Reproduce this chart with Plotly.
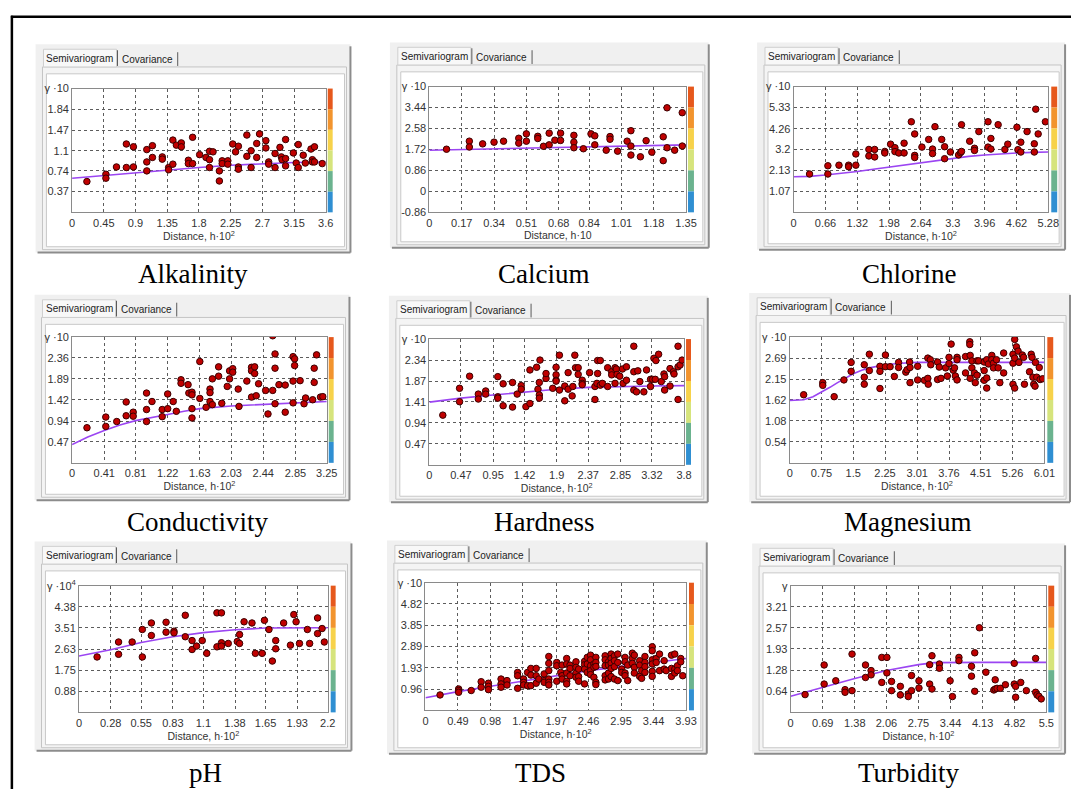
import plotly.graph_objects as go

W, H = 1082, 795


def X(px):
    return px / W


def Y(py):
    return 1 - py / H


# ---------------- DATA ----------------
titles = ["Alkalinity", "Calcium", "Chlorine", "Conductivity", "Hardness",
          "Magnesium", "pH", "TDS", "Turbidity"]

alk_pts = [(0.21, 0.55), (0.48, 0.68), (0.48, 0.61), (0.63, 0.81), (0.77, 1.22), (0.77, 0.80),
           (0.87, 1.17), (0.87, 0.81), (1.06, 1.12), (1.06, 0.90), (1.06, 0.74), (1.14, 1.19),
           (1.14, 0.98), (1.28, 0.99), (1.28, 0.95), (1.37, 0.80), (1.37, 0.76), (1.43, 1.29),
           (1.43, 0.86), (1.48, 1.20), (1.55, 1.24), (1.55, 1.17), (1.71, 1.34), (1.65, 0.93),
           (1.65, 0.87), (1.71, 0.87), (1.81, 1.03), (1.90, 0.98), (1.95, 0.94), (1.95, 1.09),
           (2.00, 1.08), (1.95, 0.80), (2.09, 0.74), (2.09, 0.56), (2.13, 0.92), (2.13, 0.87),
           (2.21, 0.92), (2.21, 0.86), (2.28, 1.22), (2.32, 1.08), (2.36, 1.18), (2.36, 0.81),
           (2.36, 0.77), (2.48, 1.38), (2.48, 1.00), (2.54, 1.10), (2.54, 0.80), (2.62, 1.23),
           (2.62, 0.98), (2.66, 1.40), (2.75, 1.28), (2.75, 1.15), (2.79, 0.90), (2.79, 0.86),
           (2.88, 1.05), (2.88, 0.80), (2.95, 1.16), (2.97, 0.99), (2.98, 0.94), (3.03, 1.30),
           (3.03, 0.96), (3.03, 0.83), (3.14, 1.06), (3.18, 0.88), (3.21, 1.21), (3.21, 0.80),
           (3.28, 1.02), (3.31, 0.88), (3.39, 1.13), (3.44, 1.17), (3.41, 0.94), (3.41, 0.90),
           (3.44, 0.90), (3.55, 0.87)]
alk_model = [(0, 0.61), (0.45, 0.66), (0.9, 0.71), (1.35, 0.76), (1.8, 0.80), (2.25, 0.84),
             (2.7, 0.87), (3.15, 0.89), (3.6, 0.90)]
alk_xticks = ["0", "0.45", "0.9", "1.35", "1.8", "2.25", "2.7", "3.15", "3.6"]
alk_yticks = ["0.37", "0.74", "1.1", "1.47", "1.84", "2.21"]

cal_pts = [(0.09, 1.73), (0.21, 2.06), (0.21, 1.82), (0.28, 1.95), (0.34, 2.02), (0.39, 2.06),
           (0.47, 2.18), (0.47, 1.98), (0.51, 2.36), (0.51, 2.06), (0.57, 2.26), (0.57, 2.17),
           (0.60, 1.85), (0.63, 2.39), (0.63, 1.91), (0.66, 2.10), (0.69, 2.39), (0.69, 2.09),
           (0.76, 2.30), (0.76, 2.02), (0.76, 1.79), (0.81, 1.75), (0.85, 2.36), (0.87, 2.28),
           (0.87, 1.91), (0.93, 1.69), (0.95, 2.25), (0.95, 2.14), (0.99, 1.65), (1.04, 2.06),
           (1.06, 2.49), (1.06, 1.86), (1.06, 1.49), (1.11, 1.42), (1.14, 2.08), (1.17, 1.61),
           (1.23, 2.24), (1.23, 1.26), (1.25, 3.43), (1.25, 1.79), (1.29, 1.69), (1.33, 3.23),
           (1.33, 1.86)]
cal_model = [(0, 1.69), (0.34, 1.75), (0.68, 1.81), (1.01, 1.86), (1.35, 1.91)]
cal_xticks = ["0", "0.17", "0.34", "0.51", "0.68", "0.84", "1.01", "1.18", "1.35"]
cal_yticks = ["-0.86", "0", "0.86", "1.72", "2.58", "3.44", "4.30"]

chl_pts = [(0.33, 1.95), (0.71, 2.37), (0.71, 1.95), (0.94, 2.40), (1.14, 2.40), (1.14, 2.32),
           (1.29, 2.97), (1.29, 2.40), (1.56, 3.20), (1.56, 2.87), (1.68, 3.20), (1.68, 2.82),
           (1.89, 3.10), (1.89, 3.02), (2.01, 3.47), (2.10, 3.29), (2.10, 3.09), (2.18, 3.02),
           (2.29, 3.52), (2.29, 3.02), (2.44, 4.61), (2.51, 3.99), (2.51, 2.90), (2.51, 2.79),
           (2.66, 3.32), (2.80, 3.71), (2.88, 3.22), (2.88, 2.99), (2.93, 4.36), (3.07, 3.71),
           (3.13, 3.34), (3.13, 2.73), (3.25, 3.07), (3.42, 2.92), (3.46, 3.04), (3.48, 3.10),
           (3.48, 4.46), (3.65, 3.62), (3.75, 3.26), (3.75, 3.15), (3.84, 4.11), (4.03, 4.61),
           (4.03, 3.32), (4.09, 3.76), (4.09, 3.22), (4.24, 4.46), (4.38, 3.20), (4.44, 3.47),
           (4.63, 4.33), (4.65, 3.19), (4.71, 3.57), (4.71, 3.07), (4.84, 4.11), (4.99, 3.49),
           (4.99, 3.07), (5.02, 5.25), (5.07, 3.99), (5.22, 4.61)]
chl_model = [(0, 1.81), (0.33, 1.83), (0.66, 1.90), (0.99, 1.98), (1.32, 2.08), (1.65, 2.19),
             (1.98, 2.30), (2.31, 2.42), (2.64, 2.54), (2.97, 2.65), (3.3, 2.76), (3.63, 2.85),
             (3.96, 2.92), (4.29, 2.98), (4.62, 3.02), (4.95, 3.05), (5.28, 3.07)]
chl_xticks = ["0", "0.66", "1.32", "1.98", "2.64", "3.3", "3.96", "4.62", "5.28"]
chl_yticks = ["1.07", "2.13", "3.2", "4.26", "5.33", "6.40"]

con_pts = [(0.19, 0.79), (0.43, 1.03), (0.43, 0.82), (0.57, 0.93), (0.69, 1.37), (0.69, 1.06),
           (0.78, 1.14), (0.78, 1.05), (0.95, 1.57), (0.95, 1.20), (0.95, 0.93), (1.02, 1.38),
           (1.15, 1.20), (1.15, 1.04), (1.22, 1.55), (1.22, 1.22), (1.29, 1.38), (1.33, 1.16),
           (1.39, 1.87), (1.39, 1.79), (1.48, 1.76), (1.49, 1.57), (1.53, 1.59), (1.53, 1.53),
           (1.53, 1.22), (1.53, 1.01), (1.63, 2.28), (1.63, 1.45), (1.71, 1.25), (1.76, 1.66),
           (1.76, 1.58), (1.76, 1.38), (1.79, 1.89), (1.79, 1.31), (1.87, 2.16), (1.87, 1.95),
           (1.91, 1.34), (1.98, 1.72), (2.01, 2.07), (2.01, 1.89), (2.05, 2.12), (2.05, 2.04),
           (2.12, 1.66), (2.13, 1.27), (2.23, 1.84), (2.29, 2.15), (2.29, 2.07), (2.29, 1.48),
           (2.33, 2.16), (2.33, 2.01), (2.35, 1.51), (2.38, 1.78), (2.47, 1.63), (2.50, 1.10),
           (2.56, 2.86), (2.56, 1.63), (2.59, 2.45), (2.59, 2.13), (2.59, 1.33), (2.64, 1.76),
           (2.72, 1.75), (2.72, 1.14), (2.82, 2.39), (2.82, 1.84), (2.82, 1.35), (2.84, 2.34),
           (2.84, 2.19), (2.91, 1.85), (2.96, 1.33), (2.98, 1.46), (3.07, 1.42), (3.09, 2.13),
           (3.09, 1.81), (3.12, 2.43), (3.17, 1.48), (3.20, 1.49)]
con_model = [(0, 0.41), (0.2, 0.58), (0.41, 0.73), (0.61, 0.85), (0.81, 0.95), (1.02, 1.03),
             (1.22, 1.09), (1.43, 1.16), (1.63, 1.22), (2.03, 1.28), (2.44, 1.31), (2.85, 1.35),
             (3.25, 1.38)]
con_xticks = ["0", "0.41", "0.81", "1.22", "1.63", "2.03", "2.44", "2.85", "3.25"]
con_yticks = ["0.47", "0.94", "1.42", "1.89", "2.36", "2.83"]

har_pts = [(0.20, 1.11), (0.45, 1.71), (0.45, 1.41), (0.60, 1.98), (0.73, 1.58), (0.73, 1.47),
           (0.84, 1.65), (0.84, 1.58), (1.02, 1.97), (1.02, 1.52), (1.02, 1.49), (1.10, 1.81),
           (1.10, 1.32), (1.24, 1.84), (1.24, 1.29), (1.31, 1.58), (1.37, 1.77), (1.37, 1.69),
           (1.44, 1.30), (1.50, 2.12), (1.50, 1.37), (1.60, 2.18), (1.62, 1.69), (1.64, 1.84),
           (1.64, 1.56), (1.64, 1.49), (1.65, 2.34), (1.74, 1.93), (1.74, 2.04), (1.84, 1.71),
           (1.89, 2.18), (1.89, 2.01), (1.89, 1.89), (1.89, 1.87), (1.94, 2.45), (1.94, 1.67),
           (2.02, 1.76), (2.02, 1.43), (2.07, 2.06), (2.07, 1.69), (2.13, 1.54), (2.14, 1.75),
           (2.17, 2.45), (2.18, 2.17), (2.22, 2.17), (2.22, 2.02), (2.28, 1.89), (2.28, 1.82),
           (2.28, 1.79), (2.39, 2.06), (2.47, 1.75), (2.47, 1.46), (2.50, 1.82), (2.51, 2.04),
           (2.51, 2.33), (2.55, 2.33), (2.55, 1.78), (2.58, 1.82), (2.66, 2.17), (2.66, 1.75),
           (2.72, 2.08), (2.72, 2.01), (2.77, 2.17), (2.77, 1.82), (2.79, 2.14), (2.80, 2.02),
           (2.84, 1.98), (2.88, 2.14), (2.89, 1.82), (2.94, 2.19), (2.94, 1.89), (3.05, 2.65),
           (3.05, 2.08), (3.05, 1.67), (3.09, 1.63), (3.11, 2.10), (3.14, 1.86), (3.20, 1.63),
           (3.24, 2.12), (3.30, 1.91), (3.30, 1.75), (3.33, 1.91), (3.35, 2.38), (3.37, 1.91),
           (3.38, 2.33), (3.42, 2.47), (3.46, 1.86), (3.50, 2.03), (3.51, 1.97), (3.51, 1.67),
           (3.59, 2.15), (3.59, 1.76), (3.64, 2.08), (3.65, 2.03), (3.71, 2.65), (3.71, 2.19),
           (3.71, 1.46), (3.74, 2.23), (3.77, 2.34)]
har_model = [(0, 1.40), (0.47, 1.49), (0.95, 1.56), (1.42, 1.63), (1.9, 1.69), (2.37, 1.73),
             (2.85, 1.75), (3.32, 1.76), (3.8, 1.77)]
har_xticks = ["0", "0.47", "0.95", "1.42", "1.9", "2.37", "2.85", "3.32", "3.8"]
har_yticks = ["0.47", "0.94", "1.41", "1.87", "2.34", "2.81"]

mag_pts = [(0.33, 1.75), (0.78, 2.06), (0.78, 1.99), (1.05, 1.70), (1.28, 2.13), (1.45, 2.58),
           (1.45, 2.35), (1.76, 2.52), (1.76, 2.20), (1.76, 2.02), (1.88, 2.79), (1.88, 2.37),
           (2.13, 2.48), (2.13, 2.35), (2.13, 1.91), (2.26, 2.77), (2.26, 2.47), (2.37, 2.47),
           (2.47, 2.22), (2.57, 2.58), (2.57, 2.45), (2.74, 2.33), (2.77, 2.39), (2.83, 2.59),
           (2.84, 2.45), (2.84, 2.06), (3.02, 2.48), (3.02, 2.13), (3.18, 2.12), (3.26, 2.69),
           (3.26, 2.17), (3.27, 2.02), (3.32, 2.65), (3.33, 2.52), (3.49, 2.59), (3.49, 2.14),
           (3.53, 2.46), (3.57, 2.17), (3.68, 2.44), (3.72, 2.23), (3.76, 2.71), (3.76, 2.55),
           (3.81, 3.05), (3.86, 2.38), (3.89, 2.44), (3.91, 2.23), (3.95, 2.71), (3.95, 2.65),
           (3.95, 2.13), (4.15, 2.31), (4.15, 2.73), (4.25, 3.11), (4.25, 3.04), (4.26, 2.76),
           (4.26, 2.17), (4.30, 2.62), (4.30, 2.44), (4.36, 2.31), (4.38, 2.06), (4.42, 2.62),
           (4.42, 2.25), (4.46, 2.62), (4.59, 2.59), (4.59, 2.37), (4.59, 2.12), (4.65, 2.65),
           (4.65, 2.18), (4.65, 1.92), (4.69, 2.54), (4.77, 2.76), (4.77, 2.65), (4.81, 2.56),
           (4.81, 2.44), (4.88, 2.65), (4.92, 2.44), (4.96, 2.06), (5.05, 2.82), (5.05, 2.31),
           (5.27, 2.79), (5.27, 2.56), (5.27, 2.02), (5.31, 3.17), (5.31, 2.69), (5.31, 1.92),
           (5.35, 2.98), (5.39, 2.87), (5.41, 2.58), (5.49, 2.77), (5.52, 2.71), (5.54, 2.02),
           (5.66, 2.34), (5.70, 2.79), (5.72, 2.71), (5.74, 2.20), (5.76, 2.02), (5.79, 1.97),
           (5.80, 2.58), (5.83, 2.20), (5.89, 2.45), (5.91, 2.14), (5.97, 2.16)]
mag_model = [(0, 1.60), (0.33, 1.62), (0.55, 1.70), (0.75, 1.81), (0.95, 1.94), (1.13, 2.06),
             (1.32, 2.18), (1.5, 2.29), (1.7, 2.38), (1.88, 2.44), (2.25, 2.52), (2.63, 2.56),
             (3.01, 2.58), (4.51, 2.58), (6.01, 2.58)]
mag_xticks = ["0", "0.75", "1.5", "2.25", "3.01", "3.76", "4.51", "5.26", "6.01"]
mag_yticks = ["0.54", "1.08", "1.62", "2.15", "2.69", "3.23"]

ph_pts = [(0.16, 2.30), (0.35, 2.92), (0.35, 2.41), (0.47, 2.92), (0.56, 3.44), (0.56, 2.30),
          (0.64, 3.71), (0.64, 3.19), (0.77, 3.74), (0.77, 3.33), (0.84, 3.37), (0.84, 3.30),
          (0.94, 4.03), (0.94, 3.14), (1.00, 2.98), (1.00, 2.61), (1.04, 2.75), (1.09, 2.98),
          (1.13, 2.45), (1.22, 4.13), (1.22, 2.72), (1.26, 4.13), (1.26, 2.89), (1.26, 2.75),
          (1.32, 2.86), (1.40, 2.94), (1.42, 3.23), (1.42, 2.86), (1.46, 3.76), (1.53, 3.71),
          (1.56, 2.45), (1.62, 2.45), (1.64, 3.82), (1.68, 3.44), (1.71, 2.13), (1.74, 2.98),
          (1.74, 2.64), (1.81, 3.71), (1.87, 2.79), (1.90, 4.06), (1.92, 3.76), (1.95, 2.86),
          (2.02, 3.44), (2.04, 2.86), (2.11, 3.92), (2.11, 3.27), (2.15, 3.48), (2.17, 2.92)]
ph_model = [(0, 2.34), (0.28, 2.60), (0.55, 2.90), (0.83, 3.14), (1.1, 3.31), (1.38, 3.43),
            (1.65, 3.50), (1.93, 3.51), (2.2, 3.51)]
ph_xticks = ["0", "0.28", "0.55", "0.83", "1.1", "1.38", "1.65", "1.93", "2.2"]
ph_yticks = ["0.88", "1.75", "2.63", "3.51", "4.38", "5.26"]

tds_pts = [(0.22, 0.70), (0.50, 0.97), (0.50, 0.90), (0.50, 0.82), (0.69, 0.90), (0.84, 1.30),
           (0.84, 1.05), (0.95, 1.23), (0.95, 1.09), (0.95, 0.94), (1.14, 1.42), (1.14, 1.20),
           (1.14, 1.05), (1.23, 1.35), (1.23, 1.15), (1.39, 1.72), (1.39, 1.57), (1.39, 1.00),
           (1.48, 1.42), (1.48, 1.27), (1.48, 1.15), (1.54, 1.72), (1.54, 1.12), (1.59, 1.90),
           (1.59, 1.60), (1.59, 1.12), (1.67, 1.90), (1.67, 1.57), (1.67, 1.23), (1.71, 1.42),
           (1.79, 1.65), (1.79, 1.35), (1.79, 1.27), (1.86, 2.44), (1.86, 2.13), (1.86, 1.80),
           (1.86, 1.42), (1.86, 1.27), (1.86, 1.15), (1.98, 2.17), (1.98, 2.02), (1.98, 1.32),
           (2.04, 1.72), (2.06, 2.05), (2.06, 1.57), (2.06, 1.42), (2.13, 2.35), (2.13, 2.10),
           (2.13, 1.69), (2.13, 1.32), (2.13, 1.20), (2.18, 2.05), (2.18, 1.90), (2.18, 1.57),
           (2.27, 2.20), (2.27, 1.95), (2.27, 1.69), (2.27, 1.50), (2.31, 1.87), (2.31, 1.53),
           (2.31, 1.32), (2.40, 2.22), (2.40, 2.07), (2.40, 1.87), (2.40, 1.20), (2.44, 2.40),
           (2.44, 2.10), (2.44, 1.72), (2.49, 2.50), (2.49, 2.29), (2.49, 2.02), (2.49, 1.80),
           (2.49, 1.62), (2.54, 2.10), (2.54, 1.95), (2.54, 1.50), (2.57, 2.40), (2.57, 2.17),
           (2.57, 1.99), (2.57, 1.27), (2.57, 1.17), (2.71, 2.47), (2.71, 2.29), (2.71, 2.02),
           (2.71, 1.57), (2.71, 1.38), (2.76, 2.20), (2.76, 2.05), (2.76, 1.69), (2.76, 1.42),
           (2.80, 2.55), (2.80, 2.35), (2.80, 2.14), (2.80, 1.90), (2.80, 1.53), (2.85, 2.47),
           (2.85, 2.25), (2.85, 1.98), (2.85, 1.42), (2.90, 2.55), (2.90, 2.17), (2.90, 1.35),
           (2.96, 1.87), (2.96, 1.72), (3.01, 2.40), (3.01, 2.20), (3.01, 1.69), (3.01, 1.57),
           (3.05, 2.05), (3.05, 1.35), (3.12, 2.59), (3.12, 2.35), (3.12, 2.13), (3.15, 2.50),
           (3.15, 1.95), (3.15, 1.69), (3.23, 2.25), (3.23, 2.05), (3.23, 1.54), (3.26, 1.80),
           (3.26, 1.45), (3.31, 2.44), (3.31, 2.17), (3.31, 1.98), (3.31, 1.72), (3.42, 2.88),
           (3.42, 2.70), (3.42, 2.29), (3.42, 2.10), (3.42, 1.77), (3.42, 1.54), (3.48, 2.35),
           (3.48, 2.17), (3.53, 2.55), (3.53, 1.80), (3.60, 2.25), (3.60, 1.87), (3.63, 1.80),
           (3.71, 2.50), (3.71, 1.90), (3.71, 1.54), (3.76, 2.55), (3.76, 1.87), (3.76, 1.69),
           (3.80, 2.02), (3.80, 1.80), (3.85, 2.35), (3.85, 2.20), (3.88, 1.57)]
tds_model = [(0, 0.57), (0.49, 0.85), (0.98, 1.09), (1.47, 1.33), (1.97, 1.57), (2.46, 1.80),
             (2.95, 1.98), (3.44, 2.17), (3.93, 2.35)]
tds_xticks = ["0", "0.49", "0.98", "1.47", "1.97", "2.46", "2.95", "3.44", "3.93"]
tds_yticks = ["0.96", "1.93", "2.89", "3.85", "4.82", "5.78"]

tur_pts = [(0.31, 0.54), (0.72, 1.44), (0.72, 0.86), (0.97, 0.96), (1.17, 0.69), (1.17, 0.61),
           (1.32, 1.77), (1.32, 0.66), (1.61, 1.44), (1.61, 1.06), (1.73, 1.27), (1.73, 1.14),
           (1.96, 1.67), (1.96, 0.91), (2.07, 1.67), (2.07, 1.20), (2.17, 0.94), (2.17, 0.66),
           (2.36, 0.79), (2.36, 0.53), (2.53, 0.56), (2.53, 0.48), (2.60, 1.12), (2.60, 0.66),
           (2.76, 0.96), (2.76, 0.74), (2.99, 1.45), (2.99, 0.86), (3.04, 1.72), (3.04, 0.71),
           (3.20, 1.47), (3.20, 1.34), (3.43, 0.96), (3.48, 0.48), (3.62, 1.67), (3.62, 1.57),
           (3.89, 1.40), (3.89, 1.10), (3.96, 1.81), (3.96, 0.64), (4.06, 2.57), (4.20, 1.22),
           (4.37, 0.68), (4.40, 0.99), (4.40, 0.71), (4.44, 0.73), (4.51, 0.73), (4.62, 0.84),
           (4.81, 1.49), (4.81, 0.86), (4.84, 0.79), (4.84, 0.46), (4.95, 0.91), (5.07, 0.66),
           (5.27, 1.64), (5.27, 0.61), (5.30, 0.53), (5.34, 0.49), (5.39, 0.41)]
tur_model = [(0, 0.49), (0.69, 0.76), (1.38, 1.03), (2.06, 1.27), (2.75, 1.45), (3.1, 1.51),
             (3.44, 1.52), (4.13, 1.52), (4.82, 1.52), (5.5, 1.52)]
tur_xticks = ["0", "0.69", "1.38", "2.06", "2.75", "3.44", "4.13", "4.82", "5.5"]
tur_yticks = ["0.64", "1.28", "1.93", "2.57", "3.21", "3.85"]

gamma_labels = ["γ ·10", "γ ·10", "γ ·10", "γ ·10", "γ ·10", "γ ·10",
                "γ ·10<sup>4</sup>", "γ ·10", "γ"]
xtitles = ["Distance, h·10<sup>2</sup>", "Distance, h·10", "Distance, h·10<sup>2</sup>",
           "Distance, h·10<sup>2</sup>", "Distance, h·10<sup>2</sup>", "Distance, h·10<sup>2</sup>",
           "Distance, h·10<sup>2</sup>", "Distance, h·10<sup>2</sup>", "Distance, h·10<sup>2</sup>"]
y_bottom = [0, -0.86, 0, 0, 0, 0, 0, 0, 0]
bar_colors = ["#e6581c", "#f2942e", "#f7d24a", "#d6e47c", "#6bb38f", "#2f8fd2"]

# ---------------- GEOMETRY (pixels) ----------------
# plot box: x0, x1, y0(top), y1(bottom)
plot_box = [(70, 327, 82, 208), (432, 692, 80, 208), (801, 1059, 80, 208),
            (70, 328, 335, 463), (432, 690, 337, 465), (797, 1055, 335, 463),
            (77, 329, 588, 717), (428, 692, 585, 715), (798, 1057, 588, 717)]
cbar_x = [(329, 334), (694, 700), (1062, 1068), (330, 335), (692, 697), (1058, 1064),
          (332, 337), (695, 700), (1059, 1065)]
inner_box = [(44, 346, 67, 243), (403, 709, 65, 238), (775, 1070, 65, 240),
             (43, 345, 322, 495), (402, 708, 323, 497), (767, 1075, 320, 497),
             (43, 347, 573, 750), (400, 707, 572, 753), (770, 1070, 575, 753)]
title_pos = [(192, 271), (548, 271), (918, 271), (197, 523), (548, 523), (917, 523),
             (205, 779), (545, 779), (918, 779)]

pts_all = [alk_pts, cal_pts, chl_pts, con_pts, har_pts, mag_pts, ph_pts, tds_pts, tur_pts]
model_all = [alk_model, cal_model, chl_model, con_model, har_model, mag_model, ph_model,
             tds_model, tur_model]
xt_all = [alk_xticks, cal_xticks, chl_xticks, con_xticks, har_xticks, mag_xticks, ph_xticks,
          tds_xticks, tur_xticks]
yt_all = [alk_yticks, cal_yticks, chl_yticks, con_yticks, har_yticks, mag_yticks, ph_yticks,
          tds_yticks, tur_yticks]

fig = go.Figure()
shapes = []
annotations = []
layout_axes = {}

for i in range(9):
    n = i + 1
    xa = "x" if n == 1 else f"x{n}"
    ya = "y" if n == 1 else f"y{n}"
    px0, px1, py0, py1 = plot_box[i]
    ix0, ix1, iy0, iy1 = inner_box[i]

    # window frame
    wx0, wx1, wy0, wy1 = ix0 - 11, min(ix1 + 6, 1081), iy0 - 30, iy1 + 6
    shapes.append(dict(type="rect", xref="paper", yref="paper", x0=X(wx0), x1=X(wx1),
                       y0=Y(wy1), y1=Y(wy0), fillcolor="#f0f0f0", line=dict(width=0),
                       layer="below"))
    shapes.append(dict(type="line", xref="paper", yref="paper", x0=X(wx1), x1=X(wx1),
                       y0=Y(wy1), y1=Y(wy0 + 2), line=dict(color="#8c8c8c", width=2),
                       layer="below"))
    shapes.append(dict(type="line", xref="paper", yref="paper", x0=X(wx0 + 2), x1=X(wx1),
                       y0=Y(wy1), y1=Y(wy1), line=dict(color="#8c8c8c", width=2),
                       layer="below"))
    # tab page
    shapes.append(dict(type="rect", xref="paper", yref="paper", x0=X(ix0 - 4), x1=X(ix1 + 2),
                       y0=Y(iy1 + 3), y1=Y(iy0 - 7), fillcolor="#f4f4f4",
                       line=dict(color="#c4c4c4", width=1), layer="below"))
    # selected tab
    shapes.append(dict(type="rect", xref="paper", yref="paper", x0=X(ix0 - 3), x1=X(ix0 + 71),
                       y0=Y(iy0 - 7), y1=Y(iy0 - 25), fillcolor="#f8f8f8",
                       line=dict(color="#cfcfcf", width=1), layer="below"))
    shapes.append(dict(type="line", xref="paper", yref="paper", x0=X(ix0 + 72), x1=X(ix0 + 72),
                       y0=Y(iy0 - 8), y1=Y(iy0 - 24), line=dict(color="#5a5a5a", width=1),
                       layer="below"))
    shapes.append(dict(type="line", xref="paper", yref="paper", x0=X(ix0 + 133), x1=X(ix0 + 133),
                       y0=Y(iy0 - 8), y1=Y(iy0 - 22), line=dict(color="#5a5a5a", width=1),
                       layer="below"))
    # inner white panel
    shapes.append(dict(type="rect", xref="paper", yref="paper", x0=X(ix0), x1=X(ix1),
                       y0=Y(iy1), y1=Y(iy0), fillcolor="white",
                       line=dict(color="#c8c8c8", width=1), layer="below"))
    # colour bar
    cx0, cx1 = cbar_x[i]
    seg = (py1 - py0) / 6.0
    for k, c in enumerate(bar_colors):
        shapes.append(dict(type="rect", xref="paper", yref="paper", x0=X(cx0), x1=X(cx1),
                           y0=Y(py0 + seg * (k + 1)), y1=Y(py0 + seg * k), fillcolor=c,
                           line=dict(width=0), layer="above"))

    annotations.append(dict(text="Semivariogram", xref="paper", yref="paper",
                            x=X(ix0 + 34), y=Y(iy0 - 16), showarrow=False,
                            font=dict(family="Liberation Sans", size=10, color="#222"),
                            xanchor="center", yanchor="middle"))
    annotations.append(dict(text="Covariance", xref="paper", yref="paper",
                            x=X(ix0 + 102), y=Y(iy0 - 15), showarrow=False,
                            font=dict(family="Liberation Sans", size=10, color="#222"),
                            xanchor="center", yanchor="middle"))
    tx, ty = title_pos[i]
    annotations.append(dict(text=titles[i], xref="paper", yref="paper", x=X(tx), y=Y(ty),
                            showarrow=False, xanchor="center", yanchor="middle",
                            font=dict(family="Liberation Serif", size=27, color="black")))

    pts = pts_all[i]
    mod = model_all[i]
    fig.add_trace(go.Scatter(x=[m[0] for m in mod], y=[m[1] for m in mod], mode="lines",
                             line=dict(color="#9b45f2", width=1.6), xaxis=xa, yaxis=ya,
                             showlegend=False, hoverinfo="skip"))
    fig.add_trace(go.Scatter(x=[p[0] for p in pts], y=[p[1] for p in pts], mode="markers",
                             marker=dict(color="#c00000", size=6.5,
                                         line=dict(color="#3a0000", width=1)),
                             xaxis=xa, yaxis=ya, showlegend=False))

    xt = xt_all[i]
    yt = yt_all[i]
    xvals = [float(v) for v in xt]
    yvals = [float(v) for v in yt]
    ytext = list(yt[:-1]) + [gamma_labels[i]]
    axis_common = dict(showgrid=True, gridcolor="#5c5c5c", griddash="dot", gridwidth=1,
                       showline=True, mirror=True, linecolor="#8a8a8a", linewidth=1,
                       zeroline=False, ticks="", fixedrange=True,
                       tickfont=dict(family="Liberation Sans", size=11, color="#333"))
    layout_axes["xaxis" if n == 1 else f"xaxis{n}"] = dict(
        domain=[X(px0), X(px1)], range=[0, xvals[-1]], tickmode="array",
        tickvals=xvals, ticktext=xt, anchor=ya,
        title=dict(text=xtitles[i], standoff=3,
                   font=dict(family="Liberation Sans", size=10.5, color="#333")),
        **axis_common)
    layout_axes["yaxis" if n == 1 else f"yaxis{n}"] = dict(
        domain=[Y(py1), Y(py0)], range=[y_bottom[i], yvals[-1]], tickmode="array",
        tickvals=yvals, ticktext=ytext, anchor=xa, **axis_common)

# outer black border (top and left)
shapes.append(dict(type="line", xref="paper", yref="paper", x0=X(8), x1=1, y0=Y(9), y1=Y(9),
                   line=dict(color="black", width=2.5), layer="above"))
shapes.append(dict(type="line", xref="paper", yref="paper", x0=X(9), x1=X(9), y0=0, y1=Y(8),
                   line=dict(color="black", width=2.5), layer="above"))

fig.update_layout(width=W, height=H, margin=dict(l=0, r=0, t=0, b=0),
                  paper_bgcolor="white", plot_bgcolor="rgba(0,0,0,0)",
                  shapes=shapes, annotations=annotations, **layout_axes)

fig.write_html("out.html")
